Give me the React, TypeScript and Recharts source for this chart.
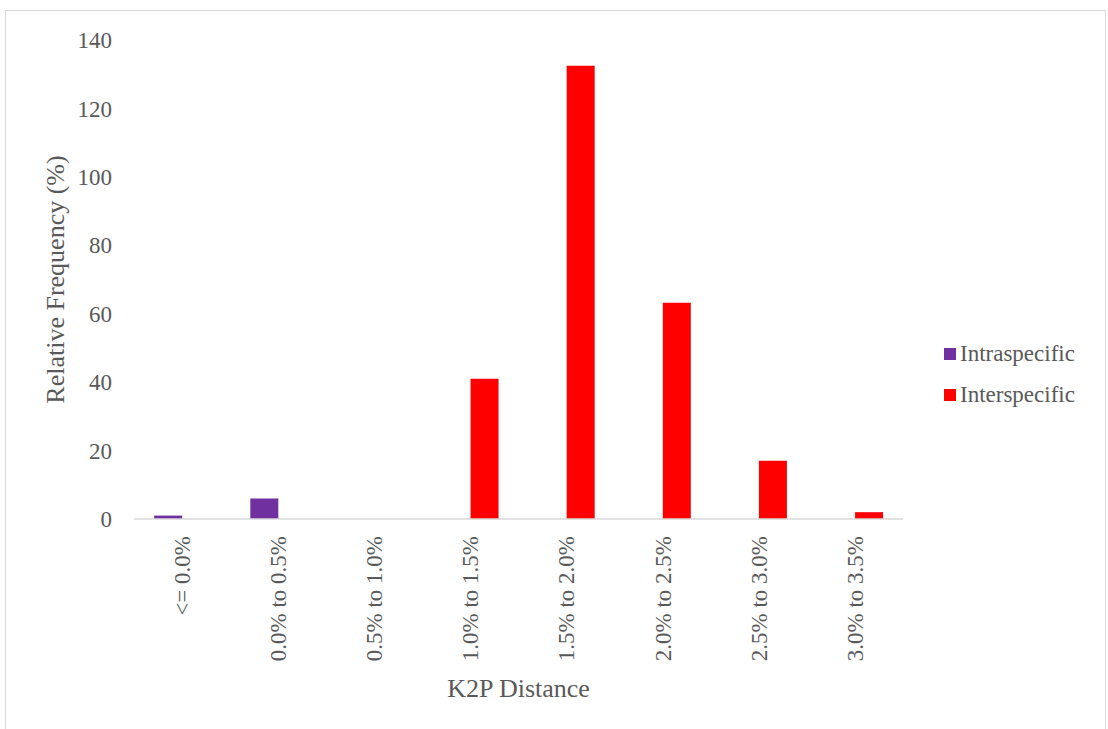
import { BarChart, Bar, XAxis, YAxis } from "recharts";

const categories = ["<= 0.0%", "0.0% to 0.5%", "0.5% to 1.0%", "1.0% to 1.5%", "1.5% to 2.0%", "2.0% to 2.5%", "2.5% to 3.0%", "3.0% to 3.5%"];
const intraspecific = [1, 6, 0, 0, 0, 0, 0, 0];
const interspecific = [0, 0, 0, 41, 132.5, 63.2, 17, 2];
const yTicks = [0, 20, 40, 60, 80, 100, 120, 140];
const seriesNames = ["Intraspecific", "Interspecific"];
const seriesColors = ["#7030A0", "#FF0000"];

const data = categories.map((c, i) => ({
  name: c,
  intra: intraspecific[i],
  inter: interspecific[i],
}));

const FONT = "Liberation Serif, Tinos, Times New Roman, DejaVu Serif, serif";
const GREY = "#595959";

function XTick(props: any) {
  const { x, y, payload } = props;
  const ty = y + 9;
  return (
    <text
      x={x}
      y={ty}
      transform={`rotate(-90 ${x} ${ty})`}
      textAnchor="end"
      dy="0.34em"
      fontSize={23}
      style={{ fontFamily: FONT }}
      fill={GREY}
    >
      {payload.value}
    </text>
  );
}

function YTitle(props: any) {
  const vb = props.viewBox;
  const cx = vb.x + 55;
  const cy = vb.y + vb.height / 2;
  return (
    <text
      x={cx}
      y={cy}
      transform={`rotate(-90 ${cx} ${cy})`}
      textAnchor="middle"
      dy="0.34em"
      fontSize={26}
      style={{ fontFamily: FONT }}
      fill={GREY}
    >
      Relative Frequency (%)
    </text>
  );
}

function XTitle(props: any) {
  const vb = props.viewBox;
  return (
    <text
      x={vb.x + vb.width / 2}
      y={vb.y + 178}
      textAnchor="middle"
      fontSize={26}
      style={{ fontFamily: FONT }}
      fill={GREY}
    >
      K2P Distance
    </text>
  );
}

export default function App() {
  return (
    <div style={{ position: "absolute", left: 0, top: 0, width: 1108, height: 729, overflow: "hidden", background: "#fff", fontFamily: FONT }}>
      <div style={{ position: "absolute", left: 5, top: 10, width: 1099, height: 760, border: "1px solid #d9d9d9" }} />
      <BarChart
        width={1108}
        height={729}
        data={data}
        margin={{ top: 40, right: 205, bottom: 0, left: 0 }}
        barCategoryGap="21%"
        barGap={0}
      >
        <XAxis
          dataKey="name"
          height={210}
          interval={0}
          tickLine={false}
          axisLine={{ stroke: "#d9d9d9", strokeWidth: 1.5 }}
          tick={<XTick />}
          label={{ content: XTitle }}
        />
        <YAxis
          width={134}
          domain={[0, 140]}
          ticks={yTicks}
          axisLine={false}
          tickLine={false}
          tickMargin={16}
          tick={{ fontSize: 23, fill: GREY, style: { fontFamily: FONT } }}
          label={{ content: YTitle }}
        />
        <Bar dataKey="intra" name={seriesNames[0]} fill={seriesColors[0]} isAnimationActive={false} />
        <Bar dataKey="inter" name={seriesNames[1]} fill={seriesColors[1]} isAnimationActive={false} />
      </BarChart>
      <div style={{ position: "absolute", left: 944, top: 333 }}>
        {seriesNames.map((n, i) => (
          <div key={n} style={{ display: "flex", alignItems: "center", height: 41 }}>
            <span style={{ width: 12, height: 12, background: seriesColors[i], marginRight: 4, display: "inline-block" }} />
            <span style={{ fontSize: 23, color: GREY, lineHeight: "26px" }}>{n}</span>
          </div>
        ))}
      </div>
    </div>
  );
}
